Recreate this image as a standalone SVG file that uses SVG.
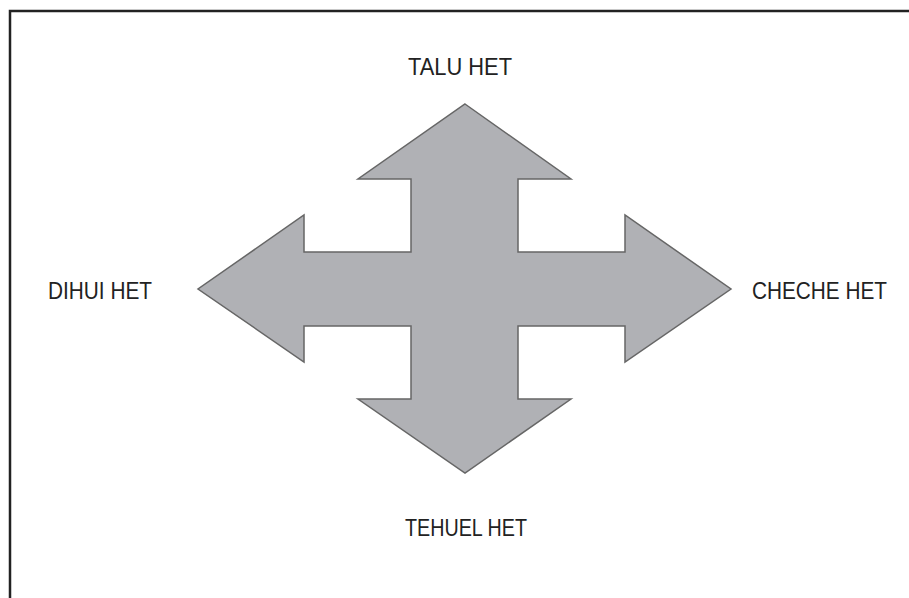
<svg xmlns="http://www.w3.org/2000/svg" width="909" height="598" viewBox="0 0 909 598">
<style>
.lbl{font-family:"Liberation Sans",Arial,sans-serif;font-size:24px;fill:#222;}
.arrow{fill:#b0b1b5;stroke:#666;stroke-width:1.5;stroke-linejoin:miter;}
</style>
<rect x="0" y="0" width="909" height="598" fill="#fff"/>
<rect x="10" y="11" width="1000" height="1000" fill="none" stroke="#222" stroke-width="2.5"/>
<g id="cross-arrow">
<polygon class="arrow" points="465,104 571,179 518,179 518,252 625,252 625,215 731,289 625,362 625,326 518,326 518,399 571,399 465,473 358,399 411,399 411,326 304,326 304,362 198,289 304,215 304,252 411,252 411,179 358,179"/>
</g>
<g id="label-top"><text class="lbl" x="408" y="75" textLength="104" lengthAdjust="spacingAndGlyphs">TALU HET</text></g>
<g id="label-left"><text class="lbl" x="48" y="299" textLength="104" lengthAdjust="spacingAndGlyphs">DIHUI HET</text></g>
<g id="label-right"><text class="lbl" x="752" y="299" textLength="135" lengthAdjust="spacingAndGlyphs">CHECHE HET</text></g>
<g id="label-bottom"><text class="lbl" x="405" y="536" textLength="122" lengthAdjust="spacingAndGlyphs">TEHUEL HET</text></g>
</svg>
